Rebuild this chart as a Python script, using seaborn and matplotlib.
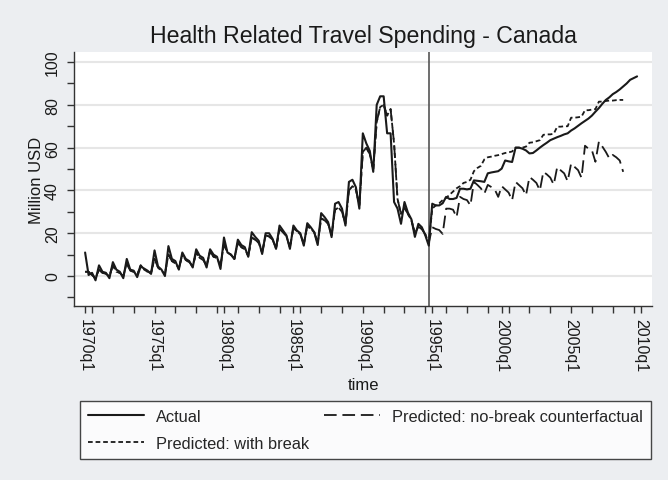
import numpy as np
import pandas as pd
import matplotlib
matplotlib.use("Agg")
import matplotlib.pyplot as plt
from matplotlib.lines import Line2D
import seaborn as sns

# ---------------- data (Stata quarterly index: 1970q1 = 40) ----------------
start_q = 40
break_q = 139

actual = [
    11, 0.5, 1.5, -2,      5, 2, 1.5, -1,        6.5, 3, 2, -1,        8, 3, 2.5, -0.5,
    4.5, 3.5, 2.5, 1,      12, 4.5, 3, 0,        14, 8, 7, 3,          11, 8, 7, 4,
    12.5, 9.5, 8.5, 4,     12.5, 10, 9, 3.3,     18, 11, 10, 8,        17, 14.5, 13.5, 9,
    20.5, 18.3, 16.5, 10.3, 20, 20, 17.4, 12.7,  23.6, 21.3, 19, 12.7, 23.6, 21.3, 20, 14.2,
    24.7, 22.8, 20.5, 14.5, 29.4, 27.5, 25.2, 18.2, 33.8, 34.6, 31.5, 23.6, 44, 45, 41.5, 31.5,
    66.7, 62, 58.5, 48.7,  80, 84, 84, 66.7,     66.7, 34.6, 31.5, 24.4, 34.6, 29.6, 26.5, 18.3,
    24.4, 22.8, 19, 14.2,  33.8, 33, 33, 34,     37, 36, 36, 36.5,     40.8, 40.8, 40.5, 40.8,
    44.7, 44.5, 44.3, 44,  48, 48.4, 48.7, 49,   50.2, 54, 53.6, 53.3, 60, 60, 59.5, 58.7,
    57.3, 57.5, 58.7, 60,  61.2, 62.3, 63.5, 64.2, 64.9, 65.5, 66.2, 66.7, 68, 69, 70.2, 71.4,
    72.5, 73.6, 75, 76.8,  78.5, 80.5, 82.3, 83.5, 85, 86, 87.2, 88.6, 90, 91.7, 92.5, 93.3,
]

pred_pre = [
    2, 2, 0.5, -1,         3, 1.5, 1, 0,         5, 2, 1.5, 0,         6, 2.5, 2, 0.5,
    5, 3, 2, 1.5,          8, 4, 2.5, 1,         10, 7, 6, 3.5,        10, 7.5, 6.5, 4.5,
    11, 8.5, 7.5, 5,       11.5, 9, 8.5, 5,      15, 11, 10, 8,        15.5, 13.5, 12.5, 9.5,
    18, 17, 15.5, 11,      19, 18.5, 17, 13,     22, 20.5, 18.5, 13.5, 22.5, 21, 19.5, 15,
    23.5, 22, 20.5, 15.5,  27, 26, 24.5, 19,     31, 32, 30, 24.5,     40, 42, 40.5, 33,
    58, 60, 57, 50,        72, 79, 80, 75,       78, 62, 36, 29,       32, 29, 26, 20,
    23, 22, 19.5, 15.5,
]

pred_break_post = [
    31.5, 33, 34, 35.5,    36.5, 38, 39.5, 41,   42, 43.5, 44, 45,     49, 50.5, 51.5, 54.5,
    55.5, 55.8, 56.2, 56.5, 57, 57.5, 57.8, 58.2, 60, 60, 60, 60.5,    62.3, 62.5, 63, 63.5,
    66, 66.2, 66.2, 66.5,  69.8, 69.8, 70, 70,   74, 74, 74.2, 74.5,   77.5, 77.5, 77.8, 78,
    81.5, 81.5, 81.8, 82,  82, 82.2, 82.3, 82.3,
]

pred_nobreak_post = [
    22.8, 22, 21.5, 19.7,  31.5, 31.5, 31, 27.5, 37, 36, 35.5, 33,     44, 42.6, 41, 38.5,
    42.6, 41.6, 40.5, 37,  42, 40.5, 39, 35.4,   44, 42.5, 41, 37.7,   46.3, 45, 43.5, 40,
    48.7, 47.5, 46, 42.7,  51, 49.4, 48, 44.3,   52.6, 51, 49.5, 45.9, 60.9, 59.5, 58.7, 53.4,
    62.8, 60.5, 58, 55,    56.6, 55.5, 54, 48.7,
]

major_x = [40, 60, 80, 100, 120, 140, 160, 180, 200]
major_x_labels = ["1970q1", "1975q1", "1980q1", "1985q1", "1990q1",
                  "1995q1", "2000q1", "2005q1", "2010q1"]
minor_x = list(range(42, 204, 6))
major_y = [0, 20, 40, 60, 80, 100]
minor_y = [-10, 10, 30, 50, 70, 90]

title = "Health Related Travel Spending - Canada"
lab_actual = "Actual"
lab_break = "Predicted: with break"
lab_nobreak = "Predicted: no-break counterfactual"

# ---------------- build frames ----------------
q_actual = start_q + np.arange(len(actual))
pred_break = pred_pre + pred_break_post
pred_nobreak = pred_pre + pred_nobreak_post
q_pred = start_q + np.arange(len(pred_break))
df_a = pd.DataFrame({"time": q_actual, "value": actual})
df_b = pd.DataFrame({"time": q_pred, "value": pred_break})
df_n = pd.DataFrame({"time": q_pred, "value": pred_nobreak})

# ---------------- style ----------------
sns.set_theme(style="white")
plt.rcParams['font.family'] = ['Liberation Sans', 'DejaVu Sans']
bg = "#eceef1"
W, H = 668, 481
fig = plt.figure(figsize=(W / 100, H / 100), dpi=100, facecolor=bg)
ax = fig.add_axes([74 / W, 1 - 307 / H, (652 - 74) / W, (307 - 53) / H])
ax.set_facecolor("white")

ink = "#1a1a1a"
ls_nobreak = (0, (7, 3.2))
ls_break = (0, (2.6, 1.6))

sns.lineplot(data=df_a, x="time", y="value", ax=ax, color=ink, lw=1.5, legend=False)
sns.lineplot(data=df_n, x="time", y="value", ax=ax, color=ink, lw=1.3,
             linestyle=ls_nobreak, legend=False)
sns.lineplot(data=df_b, x="time", y="value", ax=ax, color=ink, lw=1.3,
             linestyle=ls_break, legend=False)

ax.axvline(break_q, color="#555555", lw=1.2, zorder=1)

ax.set_xlim(36.8, 203.3)
ax.set_ylim(-14, 104.7)

ax.set_xticks(major_x)
ax.set_xticklabels(major_x_labels, rotation=270, fontsize=11.5)
ax.set_xticks(minor_x, minor=True)
ax.set_yticks(major_y)
ax.set_yticklabels([str(v) for v in major_y], rotation=90, va="center", fontsize=11.5)
ax.set_yticks(minor_y, minor=True)

ax.tick_params(axis="both", which="both", direction="out", length=5, width=1,
               color="#333333", labelcolor=ink, bottom=True, left=True,
               top=False, right=False)
ax.tick_params(axis="x", which="major", pad=4)
ax.tick_params(axis="y", which="major", pad=5)

ax.yaxis.grid(True, which="major", color="#e6e6e6", lw=1.5)
ax.xaxis.grid(False)
ax.set_axisbelow(True)

for s in ["top", "right"]:
    ax.spines[s].set_visible(False)
for s in ["left", "bottom"]:
    ax.spines[s].set_color("#333333")
    ax.spines[s].set_linewidth(1)

ax.set_xlabel("")
ax.set_ylabel("Million USD", fontsize=12, color=ink, labelpad=1)

fig.text(363 / W, 1 - 37 / H, title, ha="center", va="center", fontsize=16.7, color=ink)
fig.text(363 / W, 1 - 386 / H, "time", ha="center", va="center", fontsize=12, color=ink)

handles = [
    Line2D([], [], color=ink, lw=1.5),
    Line2D([], [], color=ink, lw=1.3, linestyle=ls_break),
    Line2D([], [], color=ink, lw=1.3, linestyle=ls_nobreak),
]
leg = fig.legend(handles, [lab_actual, lab_break, lab_nobreak], ncol=2,
                 loc="upper left", bbox_to_anchor=(80 / W, 1 - 402 / H),
                 frameon=True, fancybox=False, fontsize=11.8, handlelength=3.4,
                 handletextpad=0.75, columnspacing=0.9, labelspacing=0.7,
                 borderpad=0.5, borderaxespad=0)
leg.get_frame().set_edgecolor(ink)
leg.get_frame().set_linewidth(1)
leg.get_frame().set_facecolor("white")

fig.savefig("out.png", dpi=100, facecolor=bg)
